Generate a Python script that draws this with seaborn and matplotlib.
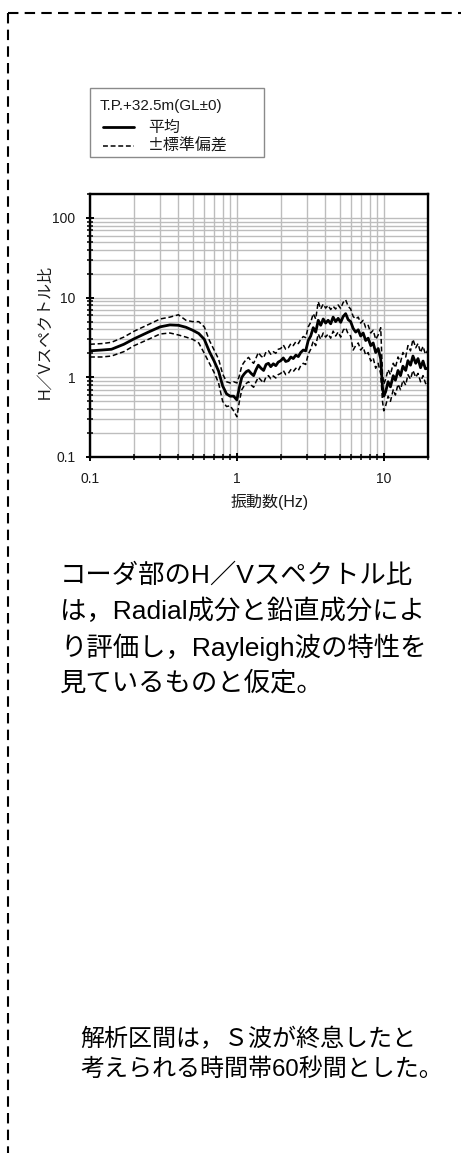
import numpy as np
import pandas as pd
import matplotlib
matplotlib.use("Agg")
import matplotlib.pyplot as plt
import seaborn as sns
from matplotlib.lines import Line2D
from matplotlib.patches import Rectangle
from matplotlib.ticker import LogLocator, NullFormatter, FixedLocator, FixedFormatter

sns.set_theme(style="white")
plt.rcParams['font.family'] = ['Liberation Sans', 'Noto Sans CJK JP', 'DejaVu Sans']

# ---------------- data ----------------
freq = [0.10, 0.12, 0.14, 0.17, 0.20, 0.25, 0.30, 0.35, 0.40, 0.45, 0.50, 0.55, 0.60, 0.65,
        0.70, 0.75, 0.80, 0.85, 0.90, 0.95,
        1.00, 1.04, 1.08, 1.12, 1.16, 1.20, 1.25, 1.30, 1.35, 1.40, 1.46, 1.52, 1.58, 1.64,
        1.70, 1.77, 1.84, 1.91, 1.99, 2.07, 2.15, 2.24, 2.33, 2.42, 2.52, 2.62, 2.72, 2.83,
        2.94, 3.06, 3.18, 3.31, 3.44, 3.58, 3.72, 3.87, 4.02, 4.18, 4.35, 4.52, 4.70, 4.89,
        5.09, 5.29, 5.50, 5.72, 5.95, 6.19, 6.44, 6.70, 6.96, 7.24, 7.53, 7.83, 8.15, 8.47,
        8.81, 9.16, 9.53, 9.80, 10.0, 10.3, 10.7, 11.1, 11.6, 12.0, 12.5, 13.0, 13.5, 14.1,
        14.6, 15.2, 15.8, 16.5, 17.1, 17.8, 18.5, 19.2, 20.0]

hv_mean = [2.15, 2.20, 2.25, 2.60, 3.05, 3.70, 4.30, 4.55, 4.50, 4.25, 3.90, 3.55, 3.00, 2.10,
           1.60, 1.20, 0.78, 0.62, 0.58, 0.58,
           0.52, 0.75, 1.00, 1.10, 1.18, 1.22, 1.12, 1.05, 1.25, 1.42, 1.30, 1.22, 1.45, 1.50,
           1.36, 1.48, 1.40, 1.55, 1.62, 1.75, 1.58, 1.62, 1.80, 1.72, 1.90, 1.82, 2.05, 2.20,
           2.15, 2.90, 3.30, 4.20, 3.70, 5.20, 4.50, 5.40, 4.80, 5.20, 4.70, 5.70, 5.00, 5.50,
           4.90, 5.80, 6.30, 5.30, 5.00, 4.10, 3.70, 3.95, 3.30, 3.60, 2.90, 3.10, 2.50, 2.70,
           2.05, 2.30, 1.70, 0.75, 0.58, 0.66, 0.88, 0.76, 1.05, 0.92, 1.22, 1.05, 1.38, 1.22,
           1.62, 1.42, 1.85, 1.50, 1.72, 1.32, 1.60, 1.28, 1.30]

hv_upper = [2.60, 2.65, 2.75, 3.20, 3.80, 4.60, 5.40, 5.70, 6.10, 5.20, 5.00, 5.00, 4.30, 2.90,
            2.20, 1.70, 1.10, 0.88, 0.85, 0.88,
            0.85, 1.05, 1.40, 1.55, 1.68, 1.78, 1.60, 1.50, 1.75, 2.05, 1.85, 1.75, 2.10, 2.15,
            1.95, 2.10, 2.00, 2.25, 2.30, 2.55, 2.25, 2.35, 2.65, 2.50, 2.80, 2.65, 3.00, 3.25,
            3.15, 4.30, 4.90, 6.30, 5.40, 8.90, 7.20, 8.30, 7.40, 8.00, 7.10, 7.80, 7.20, 8.10,
            7.30, 8.70, 9.40, 7.80, 7.20, 5.80, 5.40, 5.70, 4.80, 5.20, 4.20, 4.50, 3.60, 3.90,
            3.00, 3.40, 4.20, 1.10, 0.82, 0.95, 1.25, 1.08, 1.50, 1.32, 1.80, 1.55, 2.05, 1.80,
            2.50, 2.15, 3.00, 2.35, 2.65, 2.05, 2.45, 1.95, 2.20]

hv_lower = [1.80, 1.80, 1.85, 2.10, 2.50, 3.00, 3.50, 3.60, 3.40, 3.20, 3.00, 2.70, 2.00, 1.50,
            1.15, 0.85, 0.50, 0.43, 0.44, 0.38,
            0.32, 0.50, 0.70, 0.78, 0.84, 0.88, 0.80, 0.75, 0.88, 1.00, 0.92, 0.85, 1.02, 1.05,
            0.96, 1.04, 0.98, 1.08, 1.12, 1.22, 1.08, 1.12, 1.25, 1.18, 1.30, 1.22, 1.40, 1.50,
            1.45, 1.95, 2.25, 2.85, 2.50, 3.50, 3.00, 3.60, 3.20, 3.50, 3.10, 3.80, 3.30, 3.70,
            3.20, 3.90, 4.20, 3.50, 3.30, 2.20, 2.50, 2.70, 2.20, 2.40, 1.90, 2.05, 1.60, 1.75,
            1.30, 1.50, 1.10, 0.50, 0.38, 0.44, 0.58, 0.50, 0.70, 0.60, 0.82, 0.70, 0.92, 0.80,
            1.08, 0.95, 1.22, 1.00, 1.12, 0.88, 1.05, 0.85, 0.75]

x_ticks = [0.1, 1, 10]
x_ticklabels = ["0.1", "1", "10"]
y_ticks = [0.1, 1, 10, 100]
y_ticklabels = ["0.1", "1", "10", "100"]

legend_title = "T.P.+32.5m(GL±0)"
legend_labels = ["平均", "±標準偏差"]
xlabel = "振動数(Hz)"
ylabel = "H／Vスペクトル比"
text_block1 = ["コーダ部のH／Vスペクトル比",
               "は，Radial成分と鉛直成分によ",
               "り評価し，Rayleigh波の特性を",
               "見ているものと仮定。"]
text_block2 = ["解析区間は，Ｓ波が終息したと",
               "考えられる時間帯60秒間とした。"]

df = pd.DataFrame({"freq": freq, "mean": hv_mean, "upper": hv_upper, "lower": hv_lower})

# ---------------- figure ----------------
W, H = 461, 1153
fig = plt.figure(figsize=(W / 100, H / 100), dpi=100)
fig.patch.set_facecolor("white")

def fx(px):
    return px / W

def fy(py):
    return 1 - py / H

TXT = "#1a1a1a"
ax_l, ax_r, ax_t, ax_b = 90, 428, 194, 457
ax = fig.add_axes([fx(ax_l), fy(ax_b), fx(ax_r - ax_l), (ax_b - ax_t) / H])

dash = (0, (3.2, 1.8))
sns.lineplot(data=df, x="freq", y="upper", ax=ax, color="black", lw=1.1,
             linestyle=dash, sort=False, estimator=None)
sns.lineplot(data=df, x="freq", y="lower", ax=ax, color="black", lw=1.1,
             linestyle=dash, sort=False, estimator=None)
sns.lineplot(data=df, x="freq", y="mean", ax=ax, color="black", lw=2.0,
             sort=False, estimator=None)

ax.set_xscale("log")
ax.set_yscale("log")
ax.set_xlim(0.1, 20)
ax.set_ylim(0.1, 200)

ax.xaxis.set_major_locator(FixedLocator(x_ticks))
ax.xaxis.set_major_formatter(FixedFormatter(x_ticklabels))
ax.yaxis.set_major_locator(FixedLocator(y_ticks))
ax.yaxis.set_major_formatter(FixedFormatter(y_ticklabels))
ax.xaxis.set_minor_locator(LogLocator(base=10, subs=np.arange(2, 10)))
ax.yaxis.set_minor_locator(LogLocator(base=10, subs=np.arange(2, 10)))
ax.xaxis.set_minor_formatter(NullFormatter())
ax.yaxis.set_minor_formatter(NullFormatter())

ax.grid(True, which="both", color="#bdbdbd", lw=1.0)
ax.set_axisbelow(True)
for s in ax.spines.values():
    s.set_color("black")
    s.set_linewidth(1.7)

ax.tick_params(which="major", direction="inout", length=6, width=1.4, color="black",
               labelsize=10, labelcolor=TXT, pad=7.5,
               bottom=True, left=True, top=False, right=False)
ax.tick_params(which="minor", direction="inout", length=4, width=1.1, color="black",
               bottom=True, left=True, top=False, right=False)
ax.set_xlabel("")
ax.set_ylabel("")

fig.text(fx(270), fy(502), xlabel, fontsize=11.5, ha="center", va="center", color=TXT)
fig.text(fx(45), fy(332), ylabel, fontsize=11.5, ha="center", va="center", color=TXT,
         rotation=90)

# ---------------- legend box ----------------
cjk = ['Noto Sans CJK JP', 'DejaVu Sans']
fig.add_artist(Rectangle((fx(90), fy(157)), fx(264 - 90), (157 - 88) / H,
                         transform=fig.transFigure, fill=False, ec="#8a8a8a", lw=1.0))
fig.text(fx(100), fy(106), legend_title, fontsize=11, va="center", ha="left", color=TXT)
fig.add_artist(Line2D([fx(103), fx(134)], [fy(127), fy(127)], transform=fig.transFigure,
                      color="black", lw=2.0))
fig.add_artist(Line2D([fx(103), fx(134)], [fy(146), fy(146)], transform=fig.transFigure,
                      color="black", lw=1.1, linestyle=dash))
fig.text(fx(148), fy(127), legend_labels[0], fontsize=11.5, va="center", ha="left", color=TXT,
         family=cjk)
fig.text(fx(148), fy(146), legend_labels[1], fontsize=11.5, va="center", ha="left", color=TXT,
         family=cjk)

# ---------------- text blocks ----------------
for i, line in enumerate(text_block1):
    fig.text(fx(60), fy(575 + i * 36), line, fontsize=19, va="center", ha="left", color="black")
for i, line in enumerate(text_block2):
    fig.text(fx(80), fy(1040 + i * 30), line, fontsize=17.3, va="center", ha="left", color="black")

# ---------------- dashed border ----------------
fig.add_artist(Line2D([fx(8), fx(8)], [fy(13), fy(H + 5)], transform=fig.transFigure,
                      color="black", lw=1.5, linestyle=(0, (5, 3))))
fig.add_artist(Line2D([fx(8), fx(W + 5)], [fy(13), fy(13)], transform=fig.transFigure,
                      color="black", lw=1.5, linestyle=(0, (5, 3))))

fig.savefig("out.png", dpi=100)
